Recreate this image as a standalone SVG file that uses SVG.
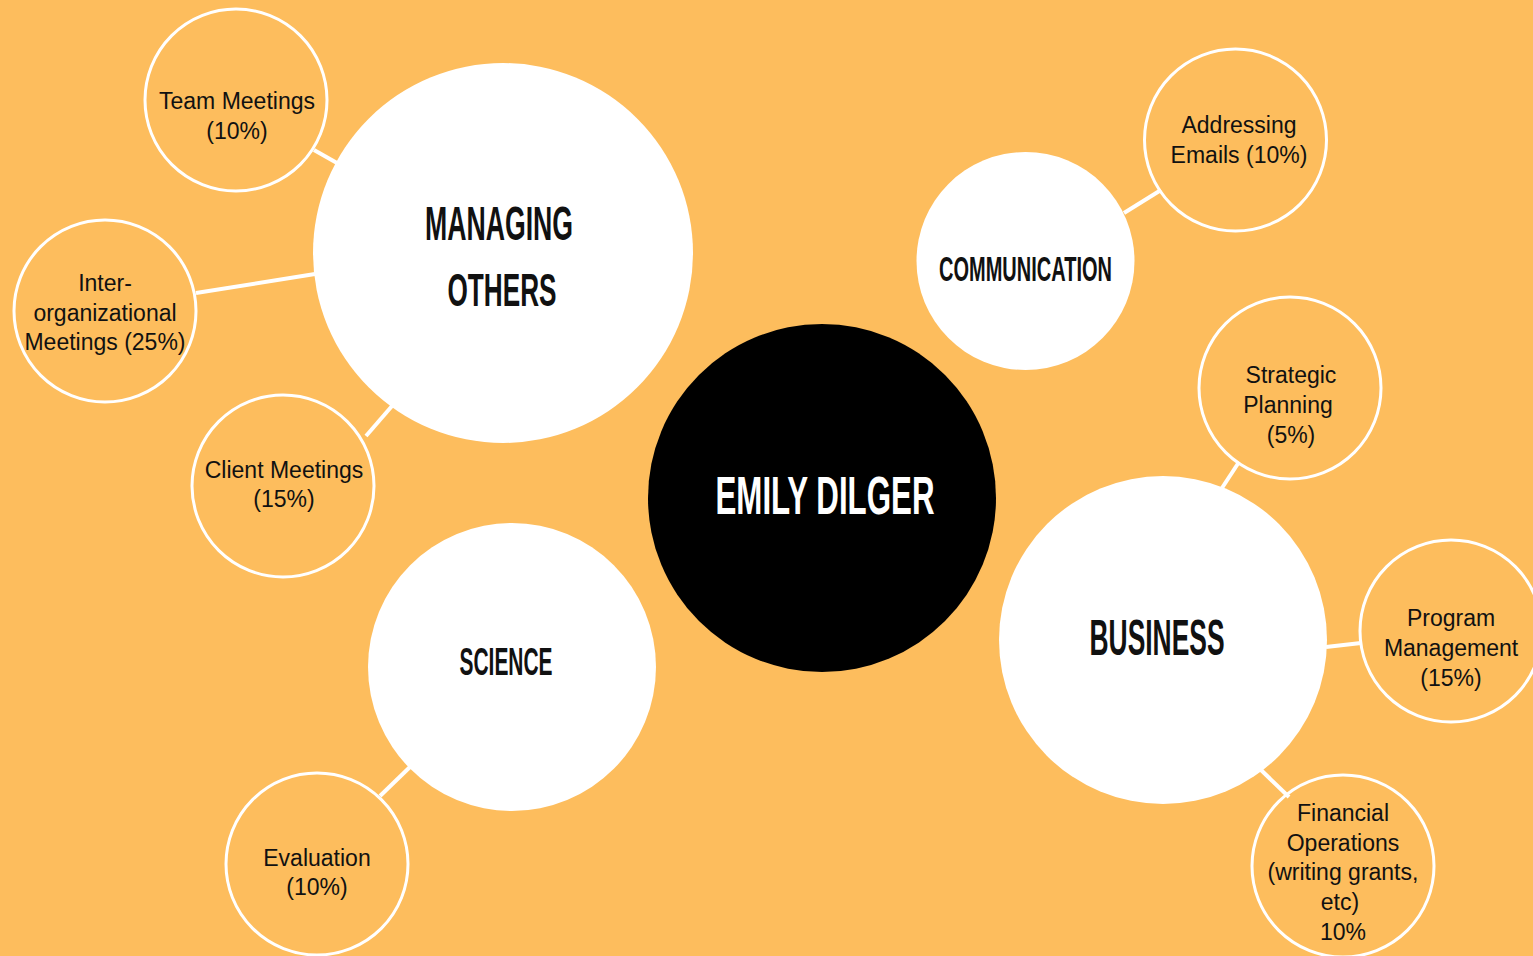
<svg xmlns="http://www.w3.org/2000/svg" width="1533" height="956" viewBox="0 0 1533 956">
<style>
.sat{fill:none;stroke:#fff;stroke-width:3}
.main{fill:#fff}
.conn line{stroke:#fff;stroke-width:4}
.st{font-family:"Liberation Sans",Arial,sans-serif;font-size:23px;fill:#111;text-anchor:middle}
.big{font-family:"Liberation Sans",Arial,sans-serif;font-weight:bold;fill:#111;text-anchor:middle}
</style>
<rect width="1533" height="956" fill="#FDBD5D"/>
<g id="connectors" class="conn">
<line x1="314" y1="150" x2="337" y2="163"/>
<line x1="196" y1="293" x2="315" y2="274"/>
<line x1="366" y1="436" x2="392" y2="406"/>
<line x1="380" y1="796" x2="411" y2="766"/>
<line x1="1124" y1="213" x2="1161" y2="190"/>
<line x1="1222" y1="488" x2="1239" y2="462"/>
<line x1="1326" y1="647" x2="1361" y2="643"/>
<line x1="1261" y1="770" x2="1289" y2="797"/>
</g>
<g id="managing-others">
<circle class="main" cx="503" cy="253" r="190"/>
<text class="big" x="499" y="240" font-size="49" textLength="148" lengthAdjust="spacingAndGlyphs">MANAGING</text>
<text class="big" x="502" y="306" font-size="47" textLength="109" lengthAdjust="spacingAndGlyphs">OTHERS</text>
</g>
<g id="emily-dilger">
<circle cx="822" cy="498" r="174" fill="#000"/>
<text class="big" x="825" y="514" font-size="53" textLength="219" lengthAdjust="spacingAndGlyphs" style="fill:#fff">EMILY DILGER</text>
</g>
<g id="communication">
<circle class="main" cx="1025.5" cy="261" r="109"/>
<text class="big" x="1025.5" y="281" font-size="35" textLength="173" lengthAdjust="spacingAndGlyphs">COMMUNICATION</text>
</g>
<g id="science">
<circle class="main" cx="512" cy="667" r="144"/>
<text class="big" x="506" y="675" font-size="38" textLength="93" lengthAdjust="spacingAndGlyphs">SCIENCE</text>
</g>
<g id="business">
<circle class="main" cx="1163" cy="640" r="164"/>
<text class="big" x="1157" y="655" font-size="50" textLength="135" lengthAdjust="spacingAndGlyphs">BUSINESS</text>
</g>
<g id="team-meetings">
<circle class="sat" cx="236" cy="100" r="91"/>
<text class="st" x="237" y="109">Team Meetings</text>
<text class="st" x="237" y="139">(10%)</text>
</g>
<g id="inter-org-meetings">
<circle class="sat" cx="105" cy="311" r="91"/>
<text class="st" x="105" y="291">Inter-</text>
<text class="st" x="105" y="321">organizational</text>
<text class="st" x="105" y="350">Meetings (25%)</text>
</g>
<g id="client-meetings">
<circle class="sat" cx="283" cy="486" r="91"/>
<text class="st" x="284" y="478">Client Meetings</text>
<text class="st" x="284" y="507">(15%)</text>
</g>
<g id="evaluation">
<circle class="sat" cx="317" cy="864" r="91"/>
<text class="st" x="317" y="866">Evaluation</text>
<text class="st" x="317" y="895">(10%)</text>
</g>
<g id="addressing-emails">
<circle class="sat" cx="1235.5" cy="140" r="91"/>
<text class="st" x="1239" y="133">Addressing</text>
<text class="st" x="1239" y="163">Emails (10%)</text>
</g>
<g id="strategic-planning">
<circle class="sat" cx="1290" cy="388" r="91"/>
<text class="st" x="1291" y="383">Strategic</text>
<text class="st" x="1288" y="413">Planning</text>
<text class="st" x="1291" y="443">(5%)</text>
</g>
<g id="program-management">
<circle class="sat" cx="1451" cy="631" r="91"/>
<text class="st" x="1451" y="626">Program</text>
<text class="st" x="1451" y="656">Management</text>
<text class="st" x="1451" y="686">(15%)</text>
</g>
<g id="financial-operations">
<circle class="sat" cx="1343" cy="866" r="91"/>
<text class="st" x="1343" y="821">Financial</text>
<text class="st" x="1343" y="851">Operations</text>
<text class="st" x="1343" y="880">(writing grants,</text>
<text class="st" x="1340" y="910">etc)</text>
<text class="st" x="1343" y="940">10%</text>
</g>
</svg>
